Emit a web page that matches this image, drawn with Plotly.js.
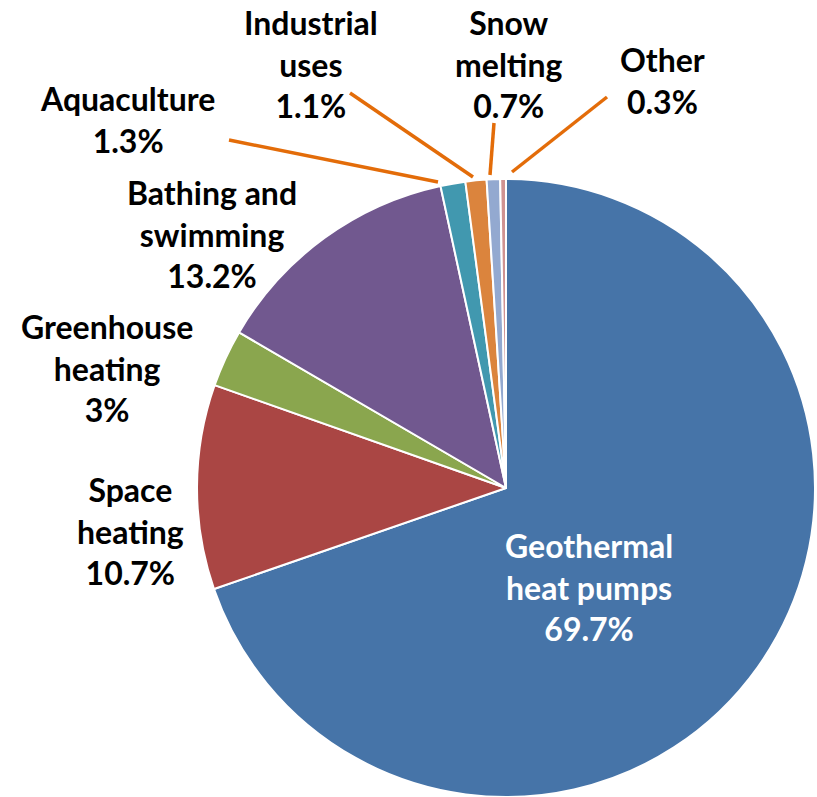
<!DOCTYPE html>
<html>
<head>
<meta charset="utf-8">
<script src="https://cdn.plot.ly/plotly-3.0.1.min.js"></script>
<style>html,body{margin:0;padding:0;background:#fff;}#chart{width:817px;height:797px;}</style>
</head>
<body>
<div id="chart"></div>
<script>
// ---- data ----
const categories = ['Geothermal<br>heat pumps', 'Space<br>heating', 'Greenhouse<br>heating', 'Bathing and<br>swimming', 'Aquaculture', 'Industrial<br>uses', 'Snow<br>melting', 'Other'];
const shares = [69.7, 10.7, 3, 13.2, 1.3, 1.1, 0.7, 0.3];
const sliceColors = ['#4674A8', '#AA4644', '#8AA64E', '#71588F', '#4198AF', '#DB843D', '#93A9D0', '#D09392'];

// ---- layout helpers (pixel positions of labels and leader lines) ----
const W = 817, H = 797;
const px = x => x / W;
const py = y => 1 - y / H;
const labelPos = [[589, 587], [130, 531], [107, 368], [212, 234], [128, 120], [311, 64], [508, 64], [662, 80]];
const labelColor = ['#ffffff', '#000000', '#000000', '#000000', '#000000', '#000000', '#000000', '#000000'];
const leaders = [null, null, null, null, [229, 140, 438, 182], [350, 93, 473, 177], [494, 123, 490, 175], [607, 97, 512, 172]];

const trace = {
  type: 'pie',
  labels: categories,
  values: shares,
  sort: false,
  direction: 'clockwise',
  rotation: 0,
  textinfo: 'none',
  hoverinfo: 'label+percent',
  marker: { colors: sliceColors, line: { color: '#ffffff', width: 2 } },
  domain: { x: [196 / W, 816 / W], y: [0, 618 / H] },
  showlegend: false
};

const annotations = categories.map((c, i) => ({
  xref: 'paper', yref: 'paper',
  x: px(labelPos[i][0]), y: py(labelPos[i][1]),
  xanchor: 'center', yanchor: 'middle',
  text: c + '<br>' + shares[i] + '%',
  showarrow: false,
  align: 'center',
  font: { family: 'Lato, "Open Sans", sans-serif', weight: 'bold', size: 32, color: labelColor[i] }
}));

const shapes = leaders.filter(l => l).map(l => ({
  type: 'line', xref: 'paper', yref: 'paper',
  x0: px(l[0]), y0: py(l[1]), x1: px(l[2]), y1: py(l[3]),
  line: { color: '#E36C09', width: 3.5 }
}));

const layout = {
  width: W, height: H,
  margin: { l: 0, r: 0, t: 0, b: 0 },
  paper_bgcolor: '#ffffff',
  annotations: annotations,
  shapes: shapes
};

Plotly.newPlot('chart', [trace], layout, { displayModeBar: false, staticPlot: true });
</script>
</body>
</html>
